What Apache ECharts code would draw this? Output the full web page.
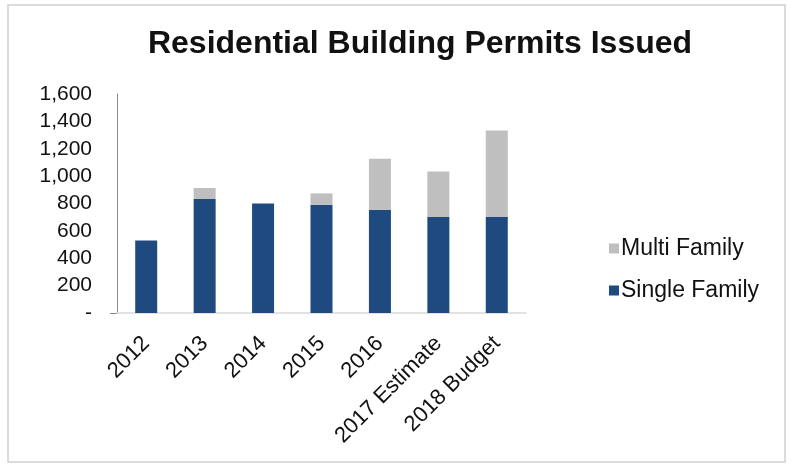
<!DOCTYPE html>
<html>
<head>
<meta charset="utf-8">
<script src="https://cdn.jsdelivr.net/npm/echarts@6/dist/echarts.min.js"></script>
<style>
  html, body { margin: 0; padding: 0; background: #fff; }
  #chart { width: 793px; height: 469px; }
</style>
</head>
<body>
<div id="chart"></div>
<script>
// Residential building permits by year
const categories = ['2012', '2013', '2014', '2015', '2016', '2017 Estimate', '2018 Budget'];
const singleFamily = [530, 833, 800, 791, 755, 701, 701];
const multiFamily = [0, 80, 0, 83, 372, 333, 633];
const yTicks = [0, 200, 400, 600, 800, 1000, 1200, 1400, 1600];

const chart = echarts.init(document.getElementById('chart'));
const font = 'Liberation Sans, Arial, sans-serif';

chart.setOption({
  animation: false,
  backgroundColor: '#fff',
  title: {
    text: 'Residential Building Permits Issued',
    left: 415,
    textAlign: 'center',
    top: 23,
    textStyle: { fontFamily: font, fontWeight: 'bold', fontSize: 32, color: '#111' }
  },
  graphic: [{
    type: 'rect',
    shape: { x: 8, y: 5, width: 777, height: 457 },
    style: { fill: 'none', stroke: '#d0d0d0', lineWidth: 1.5 },
    silent: true
  }, {
    // short stub where the category axis meets the value axis
    type: 'line',
    shape: { x1: 110, y1: 313.5, x2: 117, y2: 313.5 },
    style: { stroke: '#888', lineWidth: 1 },
    silent: true
  }],
  legend: {
    orient: 'vertical',
    left: 604,
    top: 232,
    itemWidth: 10,
    itemHeight: 10,
    itemGap: 19,
    icon: 'rect',
    data: ['Multi Family', 'Single Family'],
    textStyle: { fontFamily: font, fontSize: 23, color: '#111', padding: [0, 0, 0, -3] }
  },
  grid: { left: 117, right: 267, top: 94, bottom: 156, containLabel: false },
  xAxis: {
    type: 'category',
    data: categories,
    axisLine: { lineStyle: { color: '#d9d9d9', width: 1.5 } },
    axisTick: { show: false },
    axisLabel: {
      rotate: 45,
      interval: 0,
      margin: 27,
      fontFamily: font,
      fontSize: 22,
      color: '#111'
    }
  },
  yAxis: {
    type: 'value',
    min: 0,
    max: 1600,
    interval: 200,
    splitLine: { show: false },
    axisLine: { show: true, lineStyle: { color: '#888', width: 1 } },
    axisTick: { show: false },
    axisLabel: {
      margin: 25,
      fontFamily: font,
      fontSize: 21,
      color: '#111',
      formatter: function (v) {
        if (yTicks.indexOf(v) < 0) return '';
        return v === 0 ? '-' : v.toLocaleString('en-US');
      }
    }
  },
  series: [
    {
      name: 'Single Family',
      type: 'bar',
      stack: 'permits',
      barWidth: 22,
      itemStyle: { color: '#1f4a80' },
      data: singleFamily
    },
    {
      name: 'Multi Family',
      type: 'bar',
      stack: 'permits',
      barWidth: 22,
      itemStyle: { color: '#bfbfbf' },
      data: multiFamily
    }
  ]
});
</script>
</body>
</html>
